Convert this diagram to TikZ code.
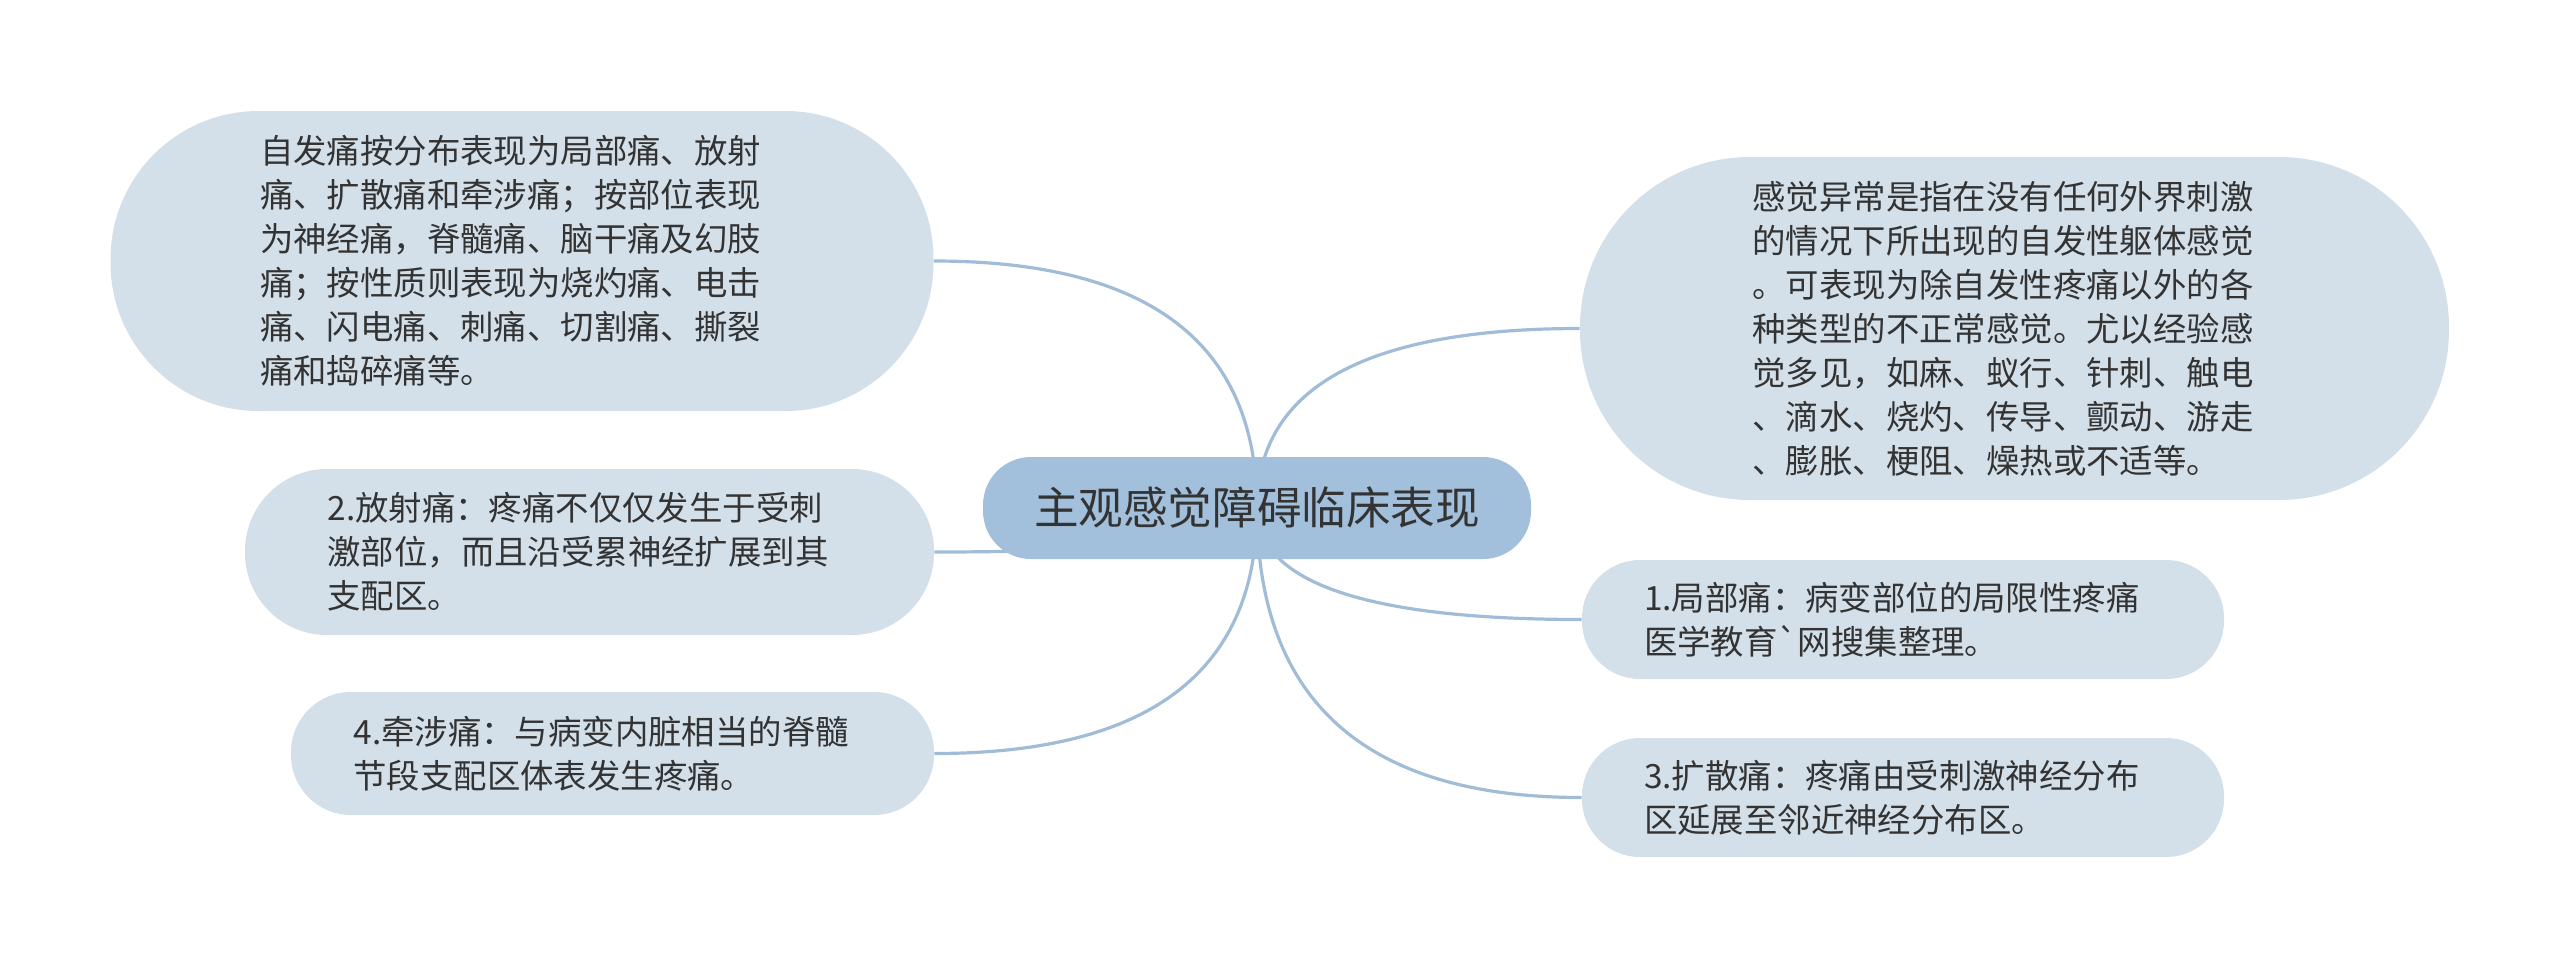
\documentclass[tikz,border=0pt]{standalone}
\usepackage{fontspec}
\setmainfont{Noto Sans CJK SC}
\usepackage{xcolor}
\usetikzlibrary{calc, backgrounds}

\definecolor{rootblue}{HTML}{A2BFDB}
\definecolor{leafgray}{HTML}{D4E0E9}
\definecolor{linkblue}{HTML}{A0BCD6}
\definecolor{inkgray}{HTML}{333333}

\begin{document}
\begin{tikzpicture}[x=0.5pt, y=-0.5pt,
    rootnode/.style={fill=rootblue, text=inkgray, minimum width=274pt, minimum height=51pt,
        rounded corners=24pt, inner sep=0pt, font=\fontsize{22.3}{26}\selectfont},
    leafnode/.style={fill=leafgray, text=inkgray, align=left, inner sep=0pt,
        font=\fontsize{16.7}{22}\selectfont},
    maplink/.style={draw=linkblue, line width=1.6pt}]

    \useasboundingbox (0,0) rectangle (2560,971);

    % Centre topic
    \node[rootnode] (root) at (1257,508) {主观感觉障碍临床表现};

    % Left side
    \node[leafnode, text width=262pt, minimum width=411.5pt, minimum height=150pt, rounded corners=74pt] (spont) at (522,261)
        {自发痛按分布表现为局部痛、放射\\
         痛、扩散痛和牵涉痛；按部位表现\\
         为神经痛，脊髓痛、脑干痛及幻肢\\
         痛；按性质则表现为烧灼痛、电击\\
         痛、闪电痛、刺痛、切割痛、撕裂\\
         痛和捣碎痛等。};
    \node[leafnode, text width=262pt, minimum width=344.5pt, minimum height=83pt, rounded corners=41pt] (radiate) at (589.5,552)
        {2.放射痛：疼痛不仅仅发生于受刺\\
         激部位，而且沿受累神经扩展到其\\
         支配区。};
    \node[leafnode, text width=259pt, minimum width=321.5pt, minimum height=61.5pt, rounded corners=30pt] (refer) at (612.5,753.5)
        {4.牵涉痛：与病变内脏相当的脊髓\\
         节段支配区体表发生疼痛。};

    % Right side
    \node[leafnode, text width=262pt, minimum width=434.5pt, minimum height=171.5pt, rounded corners=85pt] (abnorm) at (2014.5,328.5)
        {感觉异常是指在没有任何外界刺激\\
         的情况下所出现的自发性躯体感觉\\
         。可表现为除自发性疼痛以外的各\\
         种类型的不正常感觉。尤以经验感\\
         觉多见，如麻、蚁行、针刺、触电\\
         、滴水、烧灼、传导、颤动、游走\\
         、膨胀、梗阻、燥热或不适等。};
    \node[leafnode, text width=259pt, minimum width=321pt, minimum height=59.5pt, rounded corners=29pt] (local) at (1903,619.5)
        {1.局部痛：病变部位的局限性疼痛\\
         医学教育\textasciigrave 网搜集整理。};
    \node[leafnode, text width=259pt, minimum width=321pt, minimum height=59.5pt, rounded corners=29pt] (diffuse) at (1903,797.5)
        {3.扩散痛：疼痛由受刺激神经分布\\
         区延展至邻近神经分布区。};

    % Branches
    \begin{scope}[on background layer]
        \foreach \leaf in {spont.east, radiate.east, refer.east, abnorm.west, local.west, diffuse.west}
            \draw[maplink] (root.center) .. controls ($(root.center)!2/3!(root.center |- \leaf)$)
                and ($(\leaf)!2/3!(root.center |- \leaf)$) .. (\leaf);
    \end{scope}
\end{tikzpicture}
\end{document}
